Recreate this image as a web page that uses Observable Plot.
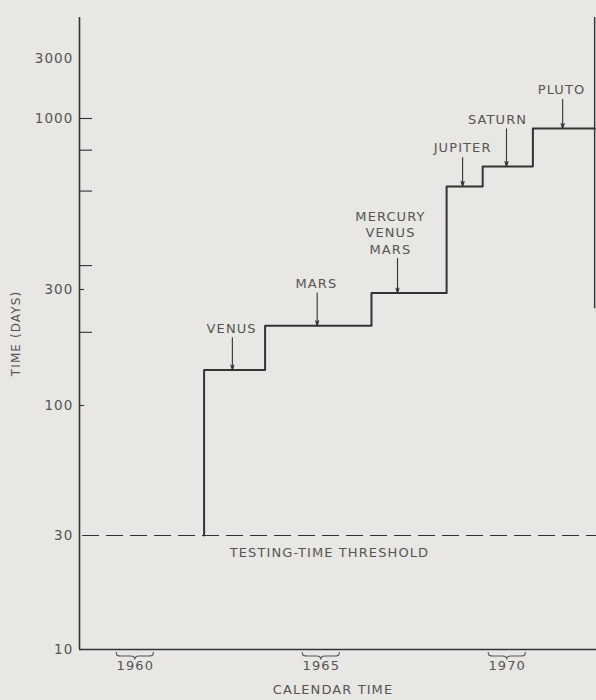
<!DOCTYPE html>
<html><head><meta charset="utf-8">
<script src="https://cdn.jsdelivr.net/npm/d3@7"></script>
<script src="https://cdn.jsdelivr.net/npm/@observablehq/plot@0.6"></script>
<style>
html,body{margin:0;padding:0;background:#e8e7e3;}
svg{display:block;}
</style></head><body><div id="chart"></div>
<script>
// Step levels: mission-class testing time (days) by calendar year
const stepYears = [1962.35, 1963.99, 1966.85, 1968.87, 1969.84, 1971.19];
const stepDays = [140, 213, 290, 620, 713, 932];
const stepEndYear = 1972.85;
const thresholdDays = 30;
const thresholdLabel = "TESTING-TIME THRESHOLD";
const thresholdLabelYear = 1965.72;

// Annotations
const labelNames = ["VENUS", "MARS", "MERCURY\nVENUS\nMARS", "JUPITER", "SATURN", "PLUTO"];
const labelYears = [1963.09, 1965.37, 1967.36, 1969.30, 1970.24, 1971.96];
const arrowYears = [1963.11, 1965.39, 1967.55, 1969.30, 1970.48, 1971.99];
const arrowFromDays = [190, 290, 373, 760, 930, 1420];
const arrowToDays = [140, 213, 290, 620, 713, 932];

// Axes
const yTickValues = [10, 30, 100, 300, 1000, 3000];
const yMajorTickMarks = [1000];
const yShortTickMarks = [100, 300];
const yMinorTicks = [200, 355, 600, 800];
const yearLabels = [1960, 1965, 1970];
const xDomain = [1959, 1972.9];
// the original axis is hand-drawn: its decades are not evenly spaced
const yDomain = [10, 30, 100, 300, 1000, 3000, 6000];
const rightEdgeDays = [250, 6000];

const steps = [{year: stepYears[0], days: thresholdDays}]
  .concat(stepYears.map((y, i) => ({year: y, days: stepDays[i]})))
  .concat([{year: stepEndYear, days: stepDays[stepDays.length - 1]}]);
const labels = labelNames.map((n, i) => ({name: n, x: labelYears[i], days: arrowFromDays[i]}));
const arrows = arrowYears.map((x, i) => ({x, from: arrowFromDays[i], to: arrowToDays[i]}));

const W = 596, H = 700, ML = 79, MR = 0, MT = 17, MB = 51;
const frameW = W - ML - MR;
const ink = "#333";
const textInk = "#555";

function braces(index, scales, values, dimensions) {
  const g = d3.create("svg:g").attr("fill", "none").attr("stroke", textInk).attr("stroke-width", 1.1);
  const y0 = dimensions.height - dimensions.marginBottom + 3;
  for (const yr of yearLabels) {
    const a = scales.x(yr), b = scales.x(yr + 1), m = (a + b) / 2, t = y0;
    g.append("path").attr("d",
      `M${a},${t} C${a},${t+4} ${a+2},${t+4} ${a+5},${t+4} L${m-4},${t+4} C${m-1},${t+4} ${m},${t+5} ${m},${t+7.5} C${m},${t+5} ${m+1},${t+4} ${m+4},${t+4} L${b-5},${t+4} C${b-2},${t+4} ${b},${t+4} ${b},${t}`);
  }
  return g.node();
}

const chart = Plot.plot({
  width: W, height: H,
  marginLeft: ML, marginRight: MR, marginTop: MT, marginBottom: MB,
  style: {fontFamily: "'DejaVu Sans', sans-serif", fontSize: "13px", color: textInk, background: "transparent", letterSpacing: "1.1px"},
  x: {domain: xDomain, axis: null},
  y: {type: "log", domain: yDomain, range: [649, 535, 405, 289, 118, 58, 17], axis: null},
  marks: [
    // axis frame
    Plot.ruleX([xDomain[0]], {y1: 10, y2: yDomain[yDomain.length - 1], stroke: ink, strokeWidth: 1.6}),
    Plot.ruleY([10], {stroke: ink, strokeWidth: 1.6}),
    Plot.ruleX([stepEndYear], {y1: rightEdgeDays[0], y2: rightEdgeDays[1], stroke: ink, strokeWidth: 1.4}),
    // y ticks (inside)
    Plot.ruleY(yMajorTickMarks, {stroke: ink, strokeWidth: 1.1, insetRight: frameW - 13}),
    Plot.ruleY(yShortTickMarks, {stroke: ink, strokeWidth: 1.1, insetRight: frameW - 5}),
    Plot.ruleY(yMinorTicks, {stroke: ink, strokeWidth: 1.1, insetRight: frameW - 13}),
    Plot.axisY(yTickValues, {tickSize: 0, tickPadding: 6, tickFormat: d => String(d), label: null, fill: textInk, fontSize: 13.5}),
    Plot.text(["TIME (DAYS)"], {frameAnchor: "left", textAnchor: "middle", rotate: -90, dx: -63, fill: textInk, fontSize: 12}),
    // x labels
    braces,
    Plot.text(yearLabels, {x: d => d + 0.5, text: d => String(d), frameAnchor: "bottom", textAnchor: "middle", dy: 20, fill: textInk}),
    Plot.text(["CALENDAR TIME"], {frameAnchor: "bottom", textAnchor: "middle", dy: 44, dx: -5, fill: textInk}),
    // threshold
    Plot.ruleY([thresholdDays], {stroke: ink, strokeWidth: 1.1, strokeDasharray: "17,7", insetLeft: 3}),
    Plot.text([thresholdLabel], {x: thresholdLabelYear, y: thresholdDays, dy: 17, fill: textInk}),
    // step line
    Plot.line(steps, {x: "year", y: "days", curve: "step-after", stroke: ink, strokeWidth: 2}),
    // annotations
    Plot.arrow(arrows, {x1: "x", x2: "x", y1: "from", y2: "to", stroke: ink, strokeWidth: 1.1, headLength: 7, headAngle: 35}),
    Plot.text(labels, {x: "x", y: "days", text: "name", lineAnchor: "bottom", dy: -5, lineHeight: 1.25, fill: textInk})
  ]
});
document.getElementById("chart").appendChild(chart);
</script>
</body></html>
